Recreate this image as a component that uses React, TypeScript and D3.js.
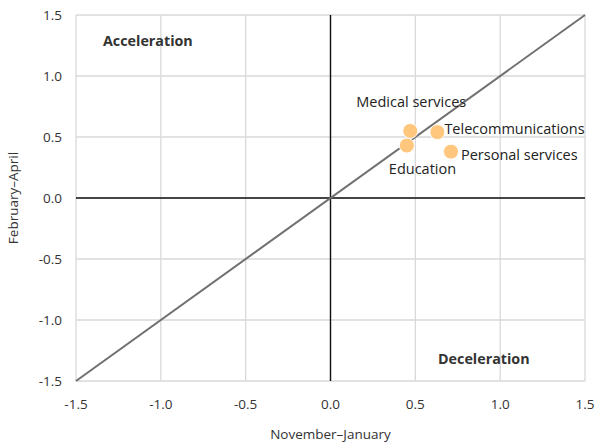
import React from "react";
import * as d3 from "d3";

const categories = ["Medical services", "Telecommunications", "Education", "Personal services"];
const novJan = [0.47, 0.63, 0.45, 0.71];
const febApr = [0.55, 0.54, 0.43, 0.38];
const ticks = [-1.5, -1.0, -0.5, 0.0, 0.5, 1.0, 1.5];

const W = 597;
const H = 446;
const m = { left: 76, right: 12, top: 15, bottom: 65 };
const FONT = "'Open Sans', 'Noto Sans', sans-serif";

// label placement per category: [dx, dy, anchor]
const labelPos: Record<string, [number, number, string]> = {
  "Medical services": [-54, -29, "start"],
  "Telecommunications": [7, -3, "start"],
  "Education": [-18, 23, "start"],
  "Personal services": [10, 3, "start"],
};

const fmt = (v: number) => d3.format(".1f")(v).replace("\u2212", "-");

export default function App() {
  const x = d3.scaleLinear().domain([-1.5, 1.5]).range([m.left, W - m.right]);
  const y = d3.scaleLinear().domain([-1.5, 1.5]).range([H - m.bottom, m.top]);

  return (
    <svg width={W} height={H} style={{ position: "absolute", left: 0, top: 0 }} fontFamily={FONT}>
      <rect width={W} height={H} fill="#fff" />
      {ticks.map((t) => (
        <g key={"g" + t}>
          <line x1={x(t)} x2={x(t)} y1={y(1.5)} y2={y(-1.5)} stroke="#d9d9d9" strokeWidth={1.3} />
          <line x1={x(-1.5)} x2={x(1.5)} y1={y(t)} y2={y(t)} stroke="#d9d9d9" strokeWidth={1.3} />
        </g>
      ))}
      <line x1={x(0)} x2={x(0)} y1={y(1.5)} y2={y(-1.5)} stroke="#111" strokeWidth={1.4} />
      <line x1={x(-1.5)} x2={x(1.5)} y1={y(0)} y2={y(0)} stroke="#111" strokeWidth={1.4} />
      <line x1={x(-1.5)} y1={y(-1.5)} x2={x(1.5)} y2={y(1.5)} stroke="#707070" strokeWidth={2} />
      {ticks.map((t) => (
        <text key={"x" + t} x={x(t)} y={y(-1.5) + 28} textAnchor="middle" fontSize={13.5} fill="#333">
          {fmt(t)}
        </text>
      ))}
      {ticks.map((t) => (
        <text key={"y" + t} x={m.left - 14} y={y(t) + 5} textAnchor="end" fontSize={13.5} fill="#333">
          {fmt(t)}
        </text>
      ))}
      <text x={x(0)} y={439} textAnchor="middle" fontSize={13.5} fill="#333">November–January</text>
      <text transform={`translate(18,${y(0)}) rotate(-90)`} textAnchor="middle" fontSize={13.5} fill="#333">
        February–April
      </text>
      <text x={103} y={46} fontSize={14.3} fontWeight="bold" fill="#333">Acceleration</text>
      <text x={438} y={364} fontSize={14.3} fontWeight="bold" fill="#333">Deceleration</text>
      {categories.map((c, i) => (
        <circle key={"p" + c} cx={x(novJan[i])} cy={y(febApr[i])} r={7.5} fill="#fec77d" stroke="#fff" strokeWidth={1} />
      ))}
      {categories.map((c, i) => {
        const [dx, dy, anchor] = labelPos[c];
        return (
          <text key={"l" + c} x={x(novJan[i]) + dx} y={y(febApr[i]) + dy + 5} textAnchor={anchor as any} fontSize={14.5} fill="#222">
            {c}
          </text>
        );
      })}
    </svg>
  );
}
